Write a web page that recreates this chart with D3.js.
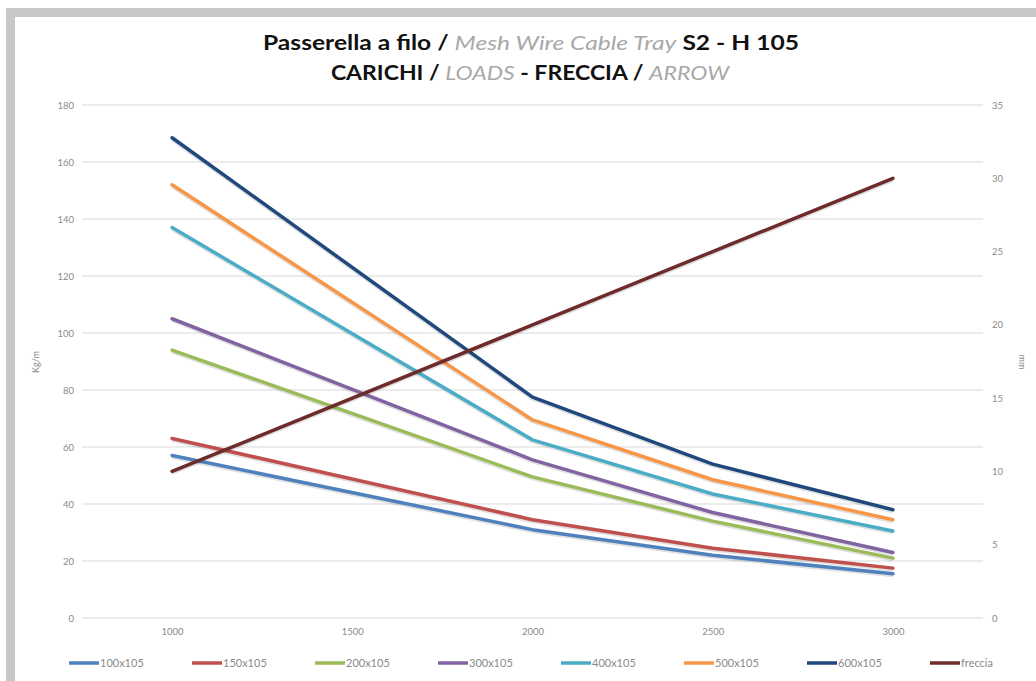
<!DOCTYPE html>
<html><head><meta charset="utf-8">
<script src="https://cdn.jsdelivr.net/npm/d3@7"></script>
<style>body{margin:0;background:#fff;}svg{display:block;}</style>
</head><body>
<svg id="c" width="1036" height="681"></svg>
<script>
const categories = [1000, 1500, 2000, 2500, 3000];
const s100x105 = [57, null, 31, 22, 15.5];
const s150x105 = [63, null, 34.5, 24.5, 17.5];
const s200x105 = [94, null, 49.5, 34, 21];
const s300x105 = [105, null, 55.5, 37, 23];
const s400x105 = [137, null, 62.5, 43.5, 30.5];
const s500x105 = [152, null, 69.5, 48.5, 34.5];
const s600x105 = [168.5, null, 77.5, 54, 38];
const freccia = [10, null, 20, 25, 30];
const seriesNames = ["100x105","150x105","200x105","300x105","400x105","500x105","600x105","freccia"];
const seriesValues = [s100x105,s150x105,s200x105,s300x105,s400x105,s500x105,s600x105,freccia];
const seriesColors = ["#4F81BD","#C0504D","#9BBB59","#8064A2","#4BACC6","#F79646","#1F497D","#6E2B2B"];
const leftTicks = [0,20,40,60,80,100,120,140,160,180];
const rightTicks = [0,5,10,15,20,25,30,35];

const svg = d3.select("#c");
// frame
svg.append("rect").attr("x",6).attr("y",8).attr("width",1030).attr("height",9).attr("fill","#c6c7c9");
svg.append("rect").attr("x",6).attr("y",8).attr("width",9).attr("height",673).attr("fill","#c6c7c9");

const L=82, R=983, T=105, B=618;
const x = d3.scalePoint().domain(categories).range([L,R]).padding(0.5);
const yL = d3.scaleLinear().domain([0,180]).range([B,T]);
const yR = d3.scaleLinear().domain([0,35]).range([B,T]);

// grid
svg.append("g").selectAll("line").data(leftTicks).join("line")
  .attr("x1",L).attr("x2",R).attr("y1",d=>yL(d)).attr("y2",d=>yL(d))
  .attr("stroke","#dadada").attr("stroke-width",1.2);

const tickFont = "Lato, 'Open Sans', sans-serif";
// left axis
const ga = svg.append("g").attr("transform",`translate(${L-8},0)`)
  .call(d3.axisLeft(yL).tickValues(leftTicks).tickSize(0).tickPadding(0));
ga.select(".domain").remove();
ga.selectAll("text").attr("fill","#8a8a8a").style("font-family",tickFont).style("font-size","9.5px");
// right axis
const gr = svg.append("g").attr("transform",`translate(${R+9},0)`)
  .call(d3.axisRight(yR).tickValues(rightTicks).tickSize(0).tickPadding(0));
gr.select(".domain").remove();
gr.selectAll("text").attr("fill","#8a8a8a").style("font-family",tickFont).style("font-size","9.5px");
// bottom axis
const gb = svg.append("g").attr("transform",`translate(0,${B+10})`)
  .call(d3.axisBottom(x).tickSize(0).tickPadding(0));
gb.select(".domain").remove();
gb.selectAll("text").attr("fill","#8a8a8a").style("font-family",tickFont).style("font-size","9.5px");

// axis titles
svg.append("text").attr("transform","translate(39,362) rotate(-90)").attr("text-anchor","middle")
  .attr("fill","#8a8a8a").style("font-family",tickFont).style("font-size","9px").text("Kg/m");
svg.append("text").attr("transform","translate(1019,362) rotate(90)").attr("text-anchor","middle")
  .attr("fill","#8a8a8a").style("font-family",tickFont).style("font-size","9px").text("mm");

// lines
seriesValues.forEach((vals,i)=>{
  const y = i===7 ? yR : yL;
  const pts = categories.map((c,j)=>({c,v:vals[j]})).filter(p=>p.v!==null);
  const line = d3.line().x(p=>x(p.c)).y(p=>y(p.v));
  svg.append("path").datum(pts).attr("d",line).attr("fill","none")
    .attr("stroke","#000").attr("stroke-opacity",0.12).attr("stroke-width",4)
    .attr("transform","translate(0,1.5)").attr("stroke-linejoin","round");
  svg.append("path").datum(pts).attr("d",line).attr("fill","none")
    .attr("stroke",seriesColors[i]).attr("stroke-width",3.5)
    .attr("stroke-linejoin","round").attr("stroke-linecap","round");
});

// legend
const lg = svg.append("g");
seriesNames.forEach((n,i)=>{
  const lx = 69 + i*123;
  lg.append("line").attr("x1",lx).attr("x2",lx+30).attr("y1",663).attr("y2",663)
    .attr("stroke",seriesColors[i]).attr("stroke-width",3.5);
  lg.append("text").attr("x",lx+31).attr("y",667).attr("fill","#8a8a8a")
    .style("font-family",tickFont).style("font-size","11px").text(n);
});

// title
const tf = "Lato, 'Open Sans', sans-serif";
const t1 = svg.append("text").attr("text-anchor","middle")
  .attr("transform","translate(531,50) scale(1.23,1)")
  .style("font-family",tf).style("font-size","20px").attr("fill","#111");
t1.append("tspan").attr("font-weight","bold").text("Passerella a filo / ");
t1.append("tspan").attr("font-style","italic").attr("fill","#a8a8a8").text("Mesh Wire Cable Tray");
t1.append("tspan").attr("font-weight","bold").text(" S2 - H 105");
const t2 = svg.append("text").attr("text-anchor","middle")
  .attr("transform","translate(530,80) scale(1.15,1)")
  .style("font-family",tf).style("font-size","20px").attr("fill","#111");
t2.append("tspan").attr("font-weight","bold").text("CARICHI / ");
t2.append("tspan").attr("font-style","italic").attr("fill","#a8a8a8").text("LOADS");
t2.append("tspan").attr("font-weight","bold").text(" - FRECCIA / ");
t2.append("tspan").attr("font-style","italic").attr("fill","#a8a8a8").text("ARROW");
</script>
</body></html>
